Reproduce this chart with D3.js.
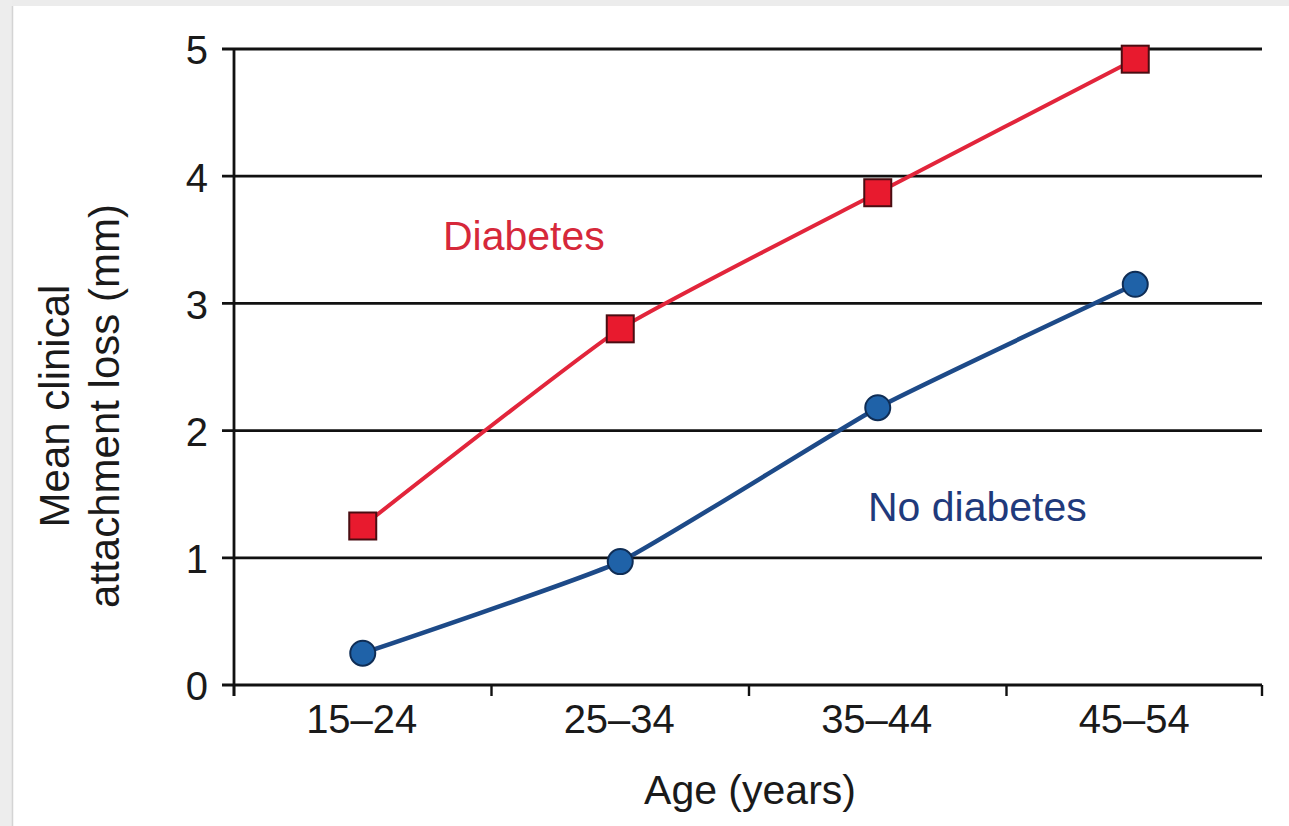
<!DOCTYPE html>
<html><head><meta charset="utf-8">
<script src="https://cdn.jsdelivr.net/npm/d3@7"></script>
<style>
html,body{margin:0;padding:0;background:#fff;}
svg{display:block;}
text{font-family:"Liberation Sans",Arial,Helvetica,sans-serif;}
</style></head>
<body>
<script>
const categories = ["15–24", "25–34", "35–44", "45–54"];
const diabetes = [1.25, 2.8, 3.87, 4.92];
const noDiabetes = [0.25, 0.97, 2.18, 3.15];
const yTicks = [0, 1, 2, 3, 4, 5];

const W = 1289, H = 826;
const svg = d3.select("body").append("svg").attr("width", W).attr("height", H);

// scan frame
svg.append("rect").attr("x",0).attr("y",0).attr("width",W).attr("height",6).attr("fill","#ececec");
svg.append("rect").attr("x",0).attr("y",0).attr("width",12).attr("height",H).attr("fill","#ededed");
svg.append("line").attr("x1",12.5).attr("x2",12.5).attr("y1",6).attr("y2",H).attr("stroke","#d4d4d4").attr("stroke-width",1.5);

const x0 = 234, x1 = 1264, yBot = 685, yTop = 49;
const x = d3.scaleBand().domain(categories).range([x0, x1]).padding(0);
const y = d3.scaleLinear().domain([0, 5]).range([yBot, yTop]);

// gridlines
svg.append("g").selectAll("line").data(yTicks).join("line")
  .attr("x1", x0 - 12).attr("x2", x1 - 2).attr("y1", d => y(d)).attr("y2", d => y(d))
  .attr("stroke", "#111").attr("stroke-width", 2.8);

// y axis line
svg.append("line").attr("x1", x0).attr("x2", x0).attr("y1", y(5)).attr("y2", yBot + 11)
  .attr("stroke", "#111").attr("stroke-width", 2.8);

// x axis ticks at band boundaries
const bounds = categories.map(c => x(c)).concat([x1 - 2]);
svg.append("g").selectAll("line").data(bounds).join("line")
  .attr("x1", d => d).attr("x2", d => d).attr("y1", yBot).attr("y2", yBot + 11)
  .attr("stroke", "#111").attr("stroke-width", 2.4);

// y tick labels
svg.append("g").selectAll("text").data(yTicks).join("text")
  .attr("x", 208).attr("y", d => y(d) + 1).attr("dy", "0.36em")
  .attr("text-anchor", "end").attr("font-size", 40).attr("fill", "#1a1a1a")
  .text(d => d);

// x tick labels
svg.append("g").selectAll("text").data(categories).join("text")
  .attr("x", d => x(d) + x.bandwidth() / 2 - 1).attr("y", 733)
  .attr("text-anchor", "middle").attr("font-size", 40).attr("fill", "#1a1a1a")
  .text(d => d);

// axis titles
svg.append("text").attr("x", 750).attr("y", 804).attr("text-anchor", "middle")
  .attr("font-size", 41).attr("fill", "#1a1a1a").text("Age (years)");
const yt = svg.append("text").attr("transform", "translate(0,406) rotate(-90)")
  .attr("text-anchor", "middle").attr("font-size", 42).attr("fill", "#1a1a1a");
yt.append("tspan").attr("x", 0).attr("y", 69).text("Mean clinical");
yt.append("tspan").attr("x", 0).attr("y", 119).text("attachment loss (mm)");

const cx = (d, i) => x(categories[i]) + x.bandwidth() / 2;
const line = d3.line().x((d, i) => cx(d, i)).y(d => y(d)).curve(d3.curveCardinal.tension(0.6));

// lines
svg.append("path").datum(diabetes).attr("d", line).attr("fill", "none")
  .attr("stroke", "#e2253b").attr("stroke-width", 4);
svg.append("path").datum(noDiabetes).attr("d", line).attr("fill", "none")
  .attr("stroke", "#1d4a88").attr("stroke-width", 4.5);

// markers
const s = 27;
svg.append("g").selectAll("rect").data(diabetes).join("rect")
  .attr("x", (d, i) => cx(d, i) - s / 2).attr("y", d => y(d) - s / 2)
  .attr("width", s).attr("height", s)
  .attr("fill", "#e81a2e").attr("stroke", "#4a0d12").attr("stroke-width", 2);
svg.append("g").selectAll("circle").data(noDiabetes).join("circle")
  .attr("cx", (d, i) => cx(d, i)).attr("cy", d => y(d)).attr("r", 12.5)
  .attr("fill", "#1f62a8").attr("stroke", "#0f2d55").attr("stroke-width", 2);

// series labels
svg.append("text").attr("x", 443).attr("y", 250).attr("font-size", 41)
  .attr("fill", "#d6283a").text("Diabetes");
svg.append("text").attr("x", 868).attr("y", 521).attr("font-size", 41)
  .attr("fill", "#1f3a7c").text("No diabetes");
</script>
</body></html>
